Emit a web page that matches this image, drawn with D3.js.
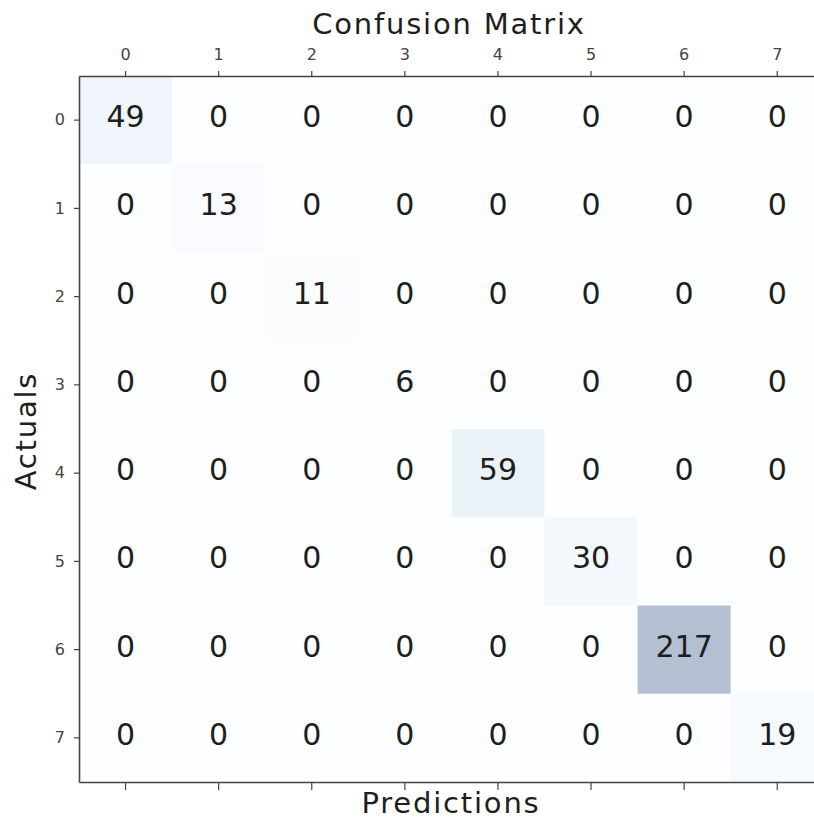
<!DOCTYPE html>
<html>
<head>
<meta charset="utf-8">
<script src="https://cdn.jsdelivr.net/npm/d3@7"></script>
<style>
  html, body { margin: 0; padding: 0; background: #fff; overflow: hidden; }
  svg { display: block; font-family: "DejaVu Sans", sans-serif; }
</style>
</head>
<body>
<script>
// Class labels for both axes
const classes = ["0", "1", "2", "3", "4", "5", "6", "7"];
// Confusion matrix counts, one row per actual class
const row0 = [49, 0, 0, 0, 0, 0, 0, 0];
const row1 = [0, 13, 0, 0, 0, 0, 0, 0];
const row2 = [0, 0, 11, 0, 0, 0, 0, 0];
const row3 = [0, 0, 0, 6, 0, 0, 0, 0];
const row4 = [0, 0, 0, 0, 59, 0, 0, 0];
const row5 = [0, 0, 0, 0, 0, 30, 0, 0];
const row6 = [0, 0, 0, 0, 0, 0, 217, 0];
const row7 = [0, 0, 0, 0, 0, 0, 0, 19];
const matrix = [row0, row1, row2, row3, row4, row5, row6, row7];

const W = 814, H = 819;
const plotLeft = 79, plotTop = 76, cellW = 93.1, cellH = 88.25;

const svg = d3.select("body").append("svg").attr("width", W).attr("height", H);

const x = d3.scaleBand().domain(classes).range([plotLeft, plotLeft + cellW * 8]);
const y = d3.scaleBand().domain(classes).range([plotTop, plotTop + cellH * 8]);

const maxV = d3.max(matrix.flat());
const color = d3.scaleSequential(d3.interpolateBlues).domain([0, maxV]);

const cells = [];
matrix.forEach((r, i) => r.forEach((v, j) => cells.push({ r: classes[i], c: classes[j], v })));

// Heatmap cells, drawn semi-transparent over white
svg.append("g").selectAll("rect").data(cells).join("rect")
  .attr("x", d => x(d.c))
  .attr("y", d => y(d.r))
  .attr("width", x.bandwidth())
  .attr("height", y.bandwidth())
  .attr("fill", d => color(d.v))
  .attr("fill-opacity", 0.3);

// Count labels
svg.append("g").selectAll("text").data(cells).join("text")
  .attr("x", d => x(d.c) + x.bandwidth() / 2)
  .attr("y", d => y(d.r) + y.bandwidth() / 2 + 7)
  .attr("text-anchor", "middle")
  .attr("font-size", 30)
  .attr("fill", "#1e1e1e")
  .text(d => d.v);

// Axes
const axisColor = "#444";
const topAxis = svg.append("g").attr("transform", `translate(0,${plotTop})`)
  .call(d3.axisTop(x).tickSizeInner(5).tickSizeOuter(0).tickPadding(11));
const leftAxis = svg.append("g").attr("transform", `translate(${plotLeft},0)`)
  .call(d3.axisLeft(y).tickSizeInner(5).tickSizeOuter(0).tickPadding(9));
const bottomAxis = svg.append("g").attr("transform", `translate(0,${plotTop + cellH * 8})`)
  .call(d3.axisBottom(x).tickSizeInner(8).tickSizeOuter(0).tickFormat(""));

[topAxis, leftAxis, bottomAxis].forEach(g => {
  g.attr("font-size", 16).attr("font-family", "DejaVu Sans, sans-serif");
  g.select(".domain").attr("stroke", axisColor).attr("stroke-width", 1.6);
  g.selectAll(".tick line").attr("stroke", axisColor).attr("stroke-width", 1.2);
  g.selectAll(".tick text").attr("fill", "#444");
});

// Titles
svg.append("text")
  .attr("x", 449).attr("y", 34)
  .attr("text-anchor", "middle")
  .attr("font-size", 29)
  .attr("letter-spacing", 1.8)
  .attr("fill", "#1e1e1e")
  .text("Confusion Matrix");

svg.append("text")
  .attr("x", 451).attr("y", 813)
  .attr("text-anchor", "middle")
  .attr("font-size", 29)
  .attr("letter-spacing", 1.8)
  .attr("fill", "#1e1e1e")
  .text("Predictions");

svg.append("text")
  .attr("transform", "translate(36,431) rotate(-90)")
  .attr("text-anchor", "middle")
  .attr("font-size", 29)
  .attr("letter-spacing", 1.8)
  .attr("fill", "#1e1e1e")
  .text("Actuals");
</script>
</body>
</html>
